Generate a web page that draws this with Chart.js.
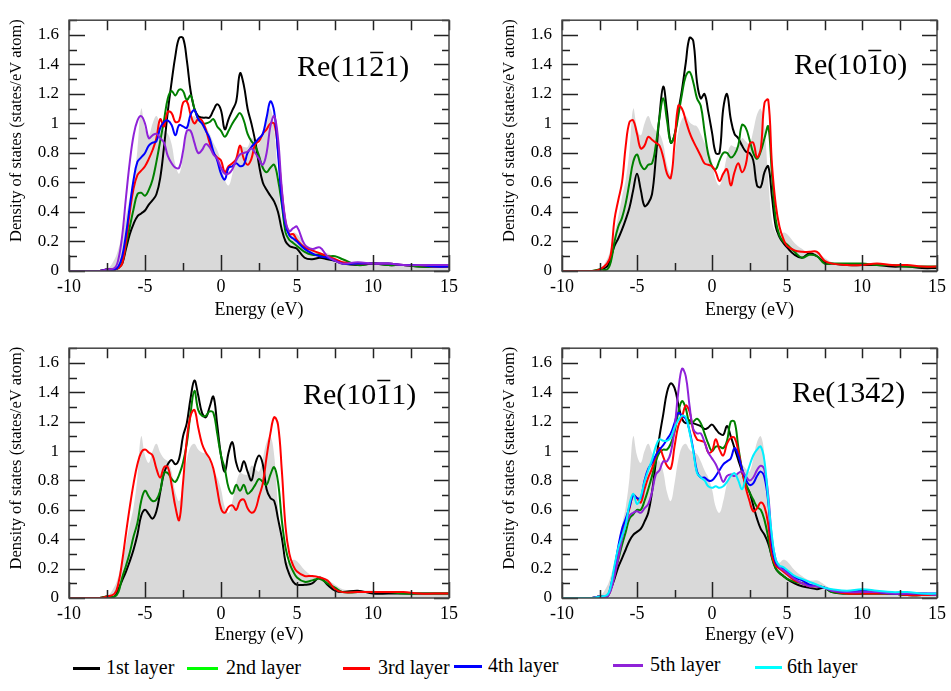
<!DOCTYPE html>
<html>
<head>
<meta charset="utf-8">
<script src="https://cdn.jsdelivr.net/npm/chart.js@4.4.1/dist/chart.umd.min.js"></script>
<style>
  body { margin: 0; background: #fff; width: 951px; height: 691px; position: relative; overflow: hidden; }
  canvas { position: absolute; }
  .leg { position: absolute; font-family: "Liberation Serif", serif; font-size: 20px; color: #000; white-space: nowrap; }
  .legline { position: absolute; height: 3px; }
</style>
</head>
<body>
<canvas id="c1121" width="470" height="321" style="left:0px;top:0px"></canvas>
<canvas id="c1010" width="458" height="321" style="left:493px;top:0px"></canvas>
<canvas id="c1011" width="470" height="318" style="left:0px;top:328px"></canvas>
<canvas id="c1342" width="458" height="318" style="left:493px;top:328px"></canvas>
<div id="legend"></div>
<script>
// energy grid (eV), shared by every curve
var energy = [-10, -8, -7.5,
  -7, -6.75, -6.5, -6.25, -6, -5.75, -5.5, -5.25,
  -5, -4.75, -4.5, -4.25, -4, -3.75, -3.5, -3.25,
  -3, -2.75, -2.5, -2.25, -2, -1.75, -1.5, -1.25,
  -1, -0.75, -0.5, -0.25, 0, 0.25, 0.5, 0.75,
  1, 1.25, 1.5, 1.75, 2, 2.25, 2.5, 2.75,
  3, 3.25, 3.5, 3.75, 4, 4.25, 4.5, 4.75,
  5, 5.5, 6, 6.5, 7, 7.5, 8,
  9, 10, 11, 12, 13, 14, 15];

// bulk DOS (grey area)
var bulk = [0, 0, 0.01,
  0.08, 0.15, 0.25, 0.37, 0.5, 0.62, 0.82, 1.1,
  0.97, 0.92, 1.0, 1.05, 0.99, 0.95, 0.93, 0.86,
  0.72, 0.66, 0.78, 0.94, 1.03, 1.05, 1.01, 0.99,
  0.98, 0.93, 0.87, 0.82, 0.74, 0.62, 0.58, 0.66,
  0.78, 0.85, 0.84, 0.84, 0.9, 0.88, 0.86, 0.95,
  1.06, 1.1, 0.97, 0.62, 0.34, 0.26, 0.24, 0.26,
  0.25, 0.19, 0.15, 0.12, 0.12, 0.09, 0.06,
  0.05, 0.05, 0.04, 0.04, 0.03, 0.03, 0.03];

// Re(11-21)
var a1121_1 = [0, 0, 0.01,
  0.01, 0.02, 0.05, 0.15, 0.25, 0.32, 0.37, 0.39,
  0.41, 0.45, 0.48, 0.52, 0.63, 0.84, 1.08, 1.28,
  1.46, 1.58, 1.58, 1.43, 1.22, 1.1, 1.05, 1.04,
  1.04, 1.04, 1.09, 1.13, 1.09, 0.96, 1.03, 1.09,
  1.15, 1.34, 1.26, 1.1, 1.0, 0.88, 0.72, 0.6,
  0.55, 0.51, 0.47, 0.4, 0.28, 0.2, 0.17, 0.16,
  0.15, 0.09, 0.08, 0.09, 0.08, 0.07, 0.05,
  0.04, 0.05, 0.04, 0.04, 0.03, 0.03, 0.03];
var a1121_2 = [0, 0, 0.01,
  0.01, 0.02, 0.06, 0.18, 0.3, 0.42, 0.52, 0.53,
  0.51, 0.55, 0.62, 0.74, 0.88, 1.02, 1.17, 1.22,
  1.19, 1.23, 1.22, 1.16, 1.19, 1.1, 1.03, 1.0,
  1.0, 1.01, 1.03, 0.98, 0.95, 0.91, 0.95, 1.0,
  1.04, 1.07, 1.02, 0.93, 0.88, 0.85, 0.78, 0.7,
  0.67, 0.7, 0.72, 0.62, 0.45, 0.26, 0.21, 0.19,
  0.17, 0.13, 0.11, 0.11, 0.1, 0.1, 0.08,
  0.04, 0.05, 0.04, 0.04, 0.03, 0.03, 0.03];
var a1121_3 = [0, 0, 0.01,
  0.01, 0.02, 0.05, 0.2, 0.4, 0.56, 0.65, 0.68,
  0.71, 0.76, 0.82, 0.9, 1.03, 0.98, 1.08, 1.07,
  1.01, 1.02, 1.14, 1.15, 1.06, 1.0, 1.03, 1.02,
  0.96, 0.87, 0.8, 0.77, 0.75, 0.67, 0.71, 0.73,
  0.76, 0.85, 0.76, 0.72, 0.76, 0.86, 0.88, 0.93,
  0.96, 1.0, 1.0, 0.82, 0.54, 0.33, 0.25, 0.25,
  0.21, 0.16, 0.14, 0.12, 0.1, 0.08, 0.06,
  0.05, 0.05, 0.05, 0.04, 0.04, 0.03, 0.03];
var a1121_4 = [0, 0, 0.01,
  0.01, 0.03, 0.1, 0.25, 0.44, 0.62, 0.74, 0.77,
  0.8, 0.85, 0.87, 0.88, 0.97, 1.01, 1.02, 0.99,
  0.92, 0.99, 0.98, 0.97, 1.06, 1.09, 1.03, 1.0,
  0.95, 0.9, 0.81, 0.75, 0.66, 0.62, 0.7, 0.71,
  0.73, 0.71, 0.72, 0.8, 0.84, 0.87, 0.9, 0.93,
  1.04, 1.15, 1.08, 0.8, 0.48, 0.31, 0.24, 0.22,
  0.2, 0.15, 0.12, 0.1, 0.09, 0.07, 0.05,
  0.05, 0.05, 0.05, 0.04, 0.04, 0.03, 0.03];
var a1121_5 = [0, 0, 0.01,
  0.02, 0.08, 0.24, 0.5, 0.74, 0.92, 1.02, 1.05,
  1.0, 0.9, 0.92, 0.93, 0.9, 0.87, 0.78, 0.73,
  0.7, 0.7, 0.81, 0.95, 0.95, 0.87, 0.8, 0.82,
  0.86, 0.84, 0.79, 0.76, 0.7, 0.66, 0.66, 0.69,
  0.75, 0.79, 0.8, 0.81, 0.83, 0.8, 0.76, 0.72,
  0.8, 0.98, 1.05, 0.9, 0.56, 0.34, 0.27, 0.29,
  0.3, 0.18, 0.15, 0.16, 0.1, 0.07, 0.05,
  0.06, 0.05, 0.05, 0.04, 0.04, 0.04, 0.04];

// Re(10-10)
var a1010_1 = [0, 0, 0.01,
  0.03, 0.09, 0.17, 0.22, 0.28, 0.35, 0.43, 0.55,
  0.66, 0.55, 0.44, 0.46, 0.52, 0.76, 1.05, 1.25,
  1.08, 0.87, 0.92, 1.08, 1.23, 1.41, 1.58, 1.56,
  1.28, 1.17, 1.2, 1.08, 0.94, 0.8, 0.8, 1.1,
  1.2, 1.03, 0.93, 0.9, 0.85, 0.81, 0.8, 0.75,
  0.58, 0.57, 0.67, 0.71, 0.5, 0.3, 0.23, 0.19,
  0.16, 0.11, 0.09, 0.12, 0.1, 0.06, 0.05,
  0.04, 0.04, 0.04, 0.03, 0.03, 0.02, 0.02];
var a1010_2 = [0, 0, 0.01,
  0.01, 0.06, 0.2, 0.3, 0.36, 0.46, 0.6, 0.74,
  0.79, 0.72, 0.69, 0.72, 0.73, 0.85, 1.04, 1.17,
  1.02, 0.87, 0.92, 1.05, 1.2, 1.32, 1.35, 1.28,
  1.17, 1.12, 0.95, 0.79, 0.71, 0.69, 0.75, 0.8,
  0.8, 0.77, 0.79, 0.85, 0.99, 0.97, 0.89, 0.8,
  0.76, 0.81, 0.9, 0.98, 0.65, 0.35, 0.24, 0.2,
  0.18, 0.13, 0.09, 0.11, 0.1, 0.05, 0.05,
  0.05, 0.05, 0.04, 0.04, 0.03, 0.03, 0.03];
var a1010_3 = [0, 0, 0.01,
  0.05, 0.11, 0.35, 0.48, 0.6, 0.85, 1.01, 1.02,
  0.93, 0.83, 0.85, 0.91, 0.89, 0.87, 0.85, 0.77,
  0.66, 0.63, 0.86, 1.12, 1.1, 1.02, 0.94, 0.88,
  0.83, 0.78, 0.73, 0.72, 0.71, 0.67, 0.61, 0.66,
  0.69, 0.58, 0.67, 0.73, 0.67, 0.72, 0.86, 0.87,
  0.77, 0.83, 1.14, 1.16, 0.72, 0.45, 0.3, 0.22,
  0.17, 0.14, 0.13, 0.13, 0.13, 0.07, 0.05,
  0.04, 0.04, 0.05, 0.04, 0.04, 0.03, 0.03];

// Re(10-11)
var a1011_1 = [0, 0, 0.01,
  0.01, 0.06, 0.12, 0.18, 0.25, 0.33, 0.43, 0.56,
  0.6, 0.57, 0.54, 0.59, 0.72, 0.85, 0.91, 0.94,
  0.91, 0.95, 1.1, 1.19, 1.36, 1.48, 1.38, 1.26,
  1.23, 1.3, 1.37, 1.18, 0.97, 0.86, 0.99, 1.06,
  0.92, 0.86, 0.93, 0.86, 0.8, 0.91, 0.97, 0.91,
  0.74, 0.68, 0.66, 0.54, 0.41, 0.24, 0.16, 0.11,
  0.09, 0.09, 0.1, 0.14, 0.09, 0.05, 0.04,
  0.05, 0.03, 0.03, 0.03, 0.03, 0.03, 0.03];
var a1011_2 = [0, 0, 0.01,
  0.01, 0.04, 0.14, 0.22, 0.31, 0.42, 0.51, 0.66,
  0.73, 0.69, 0.66, 0.67, 0.73, 0.85, 0.85, 0.81,
  0.79, 0.84, 0.92, 1.05, 1.26, 1.41, 1.28, 1.24,
  1.24, 1.27, 1.26, 1.12, 0.97, 0.88, 0.75, 0.71,
  0.77, 0.73, 0.77, 0.71, 0.73, 0.77, 0.81, 0.79,
  0.77, 0.84, 0.89, 0.79, 0.53, 0.34, 0.24, 0.18,
  0.14, 0.11, 0.12, 0.13, 0.1, 0.07, 0.04,
  0.04, 0.04, 0.04, 0.03, 0.03, 0.03, 0.03];
var a1011_3 = [0, 0, 0.01,
  0.03, 0.1, 0.25, 0.44, 0.62, 0.78, 0.91, 0.99,
  1.01, 0.99, 0.97, 0.88, 0.82, 0.89, 0.89, 0.77,
  0.62, 0.53, 0.78, 1.08, 1.24, 1.28, 1.16, 1.05,
  0.99, 0.95, 0.88, 0.74, 0.61, 0.58, 0.62, 0.63,
  0.6, 0.66, 0.67, 0.61, 0.58, 0.6, 0.69, 0.78,
  0.96, 1.12, 1.23, 1.18, 0.87, 0.48, 0.3, 0.22,
  0.18, 0.15, 0.15, 0.14, 0.12, 0.06, 0.04,
  0.04, 0.04, 0.04, 0.04, 0.03, 0.03, 0.03];

// Re(13-42)
var a1342_1 = [0, 0, 0.01,
  0.01, 0.06, 0.13, 0.21, 0.27, 0.33, 0.39, 0.43,
  0.45, 0.47, 0.52, 0.58, 0.72, 0.92, 1.1, 1.25,
  1.4, 1.46, 1.43, 1.32, 1.22, 1.19, 1.21, 1.19,
  1.18, 1.17, 1.15, 1.16, 1.18, 1.15, 1.12, 1.11,
  1.17, 1.1, 1.02, 0.94, 0.86, 0.77, 0.72, 0.63,
  0.54, 0.47, 0.43, 0.37, 0.28, 0.2, 0.17, 0.15,
  0.13, 0.1, 0.08, 0.07, 0.06, 0.07, 0.04,
  0.03, 0.03, 0.03, 0.03, 0.02, 0.02, 0.02];
var a1342_2 = [0, 0, 0.01,
  0.01, 0.06, 0.16, 0.26, 0.36, 0.45, 0.54, 0.57,
  0.6, 0.6, 0.66, 0.74, 0.83, 0.93, 0.99, 1.01,
  1.01, 1.05, 1.13, 1.26, 1.34, 1.29, 1.19, 1.2,
  1.22, 1.19, 1.12, 1.05, 1.0, 1.03, 1.03, 1.02,
  1.07, 1.2, 1.2, 1.03, 0.88, 0.78, 0.72, 0.67,
  0.62, 0.6, 0.53, 0.41, 0.27, 0.2, 0.17, 0.15,
  0.13, 0.11, 0.1, 0.08, 0.08, 0.07, 0.04,
  0.03, 0.03, 0.03, 0.03, 0.02, 0.02, 0.02];
var a1342_3 = [0, 0, 0.01,
  0.01, 0.06, 0.16, 0.3, 0.42, 0.52, 0.61, 0.7,
  0.68, 0.65, 0.74, 0.82, 0.88, 0.96, 1.02, 0.96,
  0.9, 0.88, 1.03, 1.17, 1.23, 1.31, 1.27, 1.14,
  1.08, 1.07, 1.06, 0.99, 1.0, 1.08, 1.01, 0.97,
  1.05, 1.09, 1.09, 1.0, 0.87, 0.75, 0.66, 0.59,
  0.61, 0.65, 0.62, 0.5, 0.29, 0.22, 0.2, 0.18,
  0.16, 0.12, 0.1, 0.08, 0.08, 0.07, 0.05,
  0.03, 0.03, 0.03, 0.03, 0.02, 0.02, 0.02];
var a1342_4 = [0, 0, 0.01,
  0.01, 0.08, 0.2, 0.35, 0.47, 0.54, 0.62, 0.7,
  0.68, 0.68, 0.8, 0.88, 0.92, 0.97, 1.01, 1.04,
  1.08, 1.12, 1.19, 1.26, 1.24, 1.22, 1.14, 1.01,
  0.86, 0.82, 0.82, 0.8, 0.8, 0.83, 0.87, 0.91,
  0.93, 0.95, 1.02, 0.97, 0.88, 0.81, 0.77, 0.78,
  0.83, 0.86, 0.82, 0.65, 0.36, 0.24, 0.21, 0.2,
  0.18, 0.14, 0.12, 0.09, 0.08, 0.07, 0.05,
  0.04, 0.05, 0.04, 0.03, 0.03, 0.03, 0.03];
var a1342_5 = [0, 0, 0.01,
  0.01, 0.05, 0.15, 0.27, 0.4, 0.5, 0.56, 0.58,
  0.59, 0.58, 0.61, 0.64, 0.72, 0.84, 0.87, 0.93,
  0.93, 0.99, 1.15, 1.4, 1.56, 1.51, 1.31, 1.15,
  1.12, 1.12, 1.06, 0.99, 0.95, 0.91, 0.85, 0.79,
  0.83, 0.84, 0.83, 0.85, 0.86, 0.83, 0.8, 0.82,
  0.87, 0.9, 0.87, 0.7, 0.4, 0.26, 0.21, 0.19,
  0.17, 0.13, 0.1, 0.08, 0.08, 0.07, 0.05,
  0.04, 0.04, 0.04, 0.03, 0.03, 0.03, 0.02];
var a1342_6 = [0, 0, 0.01,
  0.02, 0.08, 0.22, 0.34, 0.42, 0.5, 0.64, 0.71,
  0.64, 0.69, 0.79, 0.87, 0.94, 1.03, 1.08, 1.07,
  1.07, 1.09, 1.16, 1.21, 1.24, 1.23, 1.13, 1.0,
  0.85, 0.82, 0.8, 0.76, 0.75, 0.76, 0.75, 0.76,
  0.79, 0.83, 0.85, 0.8, 0.74, 0.82, 0.9, 0.97,
  1.01, 1.03, 0.93, 0.67, 0.42, 0.26, 0.22, 0.21,
  0.19, 0.15, 0.13, 0.11, 0.09, 0.07, 0.06,
  0.05, 0.06, 0.05, 0.04, 0.04, 0.03, 0.03];

var layerNames = ['1st layer', '2nd layer', '3rd layer', '4th layer', '5th layer', '6th layer'];
var layerColors = ['#000000', '#008000', '#ff0000', '#0000ff', '#8f22d8', '#00f0ff'];
var legendColors = ['#000000', '#00ff00', '#ff0000', '#0000ff', '#8f22d8', '#00ffff'];
var yTicks = [0, 0.2, 0.4, 0.6, 0.8, 1, 1.2, 1.4, 1.6];

var serif = '"Liberation Serif", "Times New Roman", serif';

function pts(arr) {
	return energy.map(function (e, i) { return {x: e, y: arr[i]}; });
}

// frame with inward ticks on all sides, y title, panel label with overbar
var framePlugin = {
	id: 'frame',
	afterDatasetsDraw: function (chart, args, opts) {
		var ctx = chart.ctx, a = chart.chartArea, x = chart.scales.x, y = chart.scales.y;
		ctx.save();
		ctx.strokeStyle = '#222';
		ctx.lineWidth = 1.5;
		ctx.beginPath();
		for (var e = -10; e <= 15; e += 2.5) {
			var px = Math.round(x.getPixelForValue(e)) + 0.5;
			var major = (e % 5 === 0);
			ctx.moveTo(px, a.bottom); ctx.lineTo(px, a.bottom - (major ? 16 : 8));
			ctx.moveTo(px, a.top); ctx.lineTo(px, a.top + 10);
		}
		for (var k = 0; k <= 17; k++) {
			var py = Math.round(y.getPixelForValue(k / 10)) + 0.5;
			var maj = (k % 2 === 0);
			ctx.moveTo(a.left, py); ctx.lineTo(a.left + (maj ? 16 : 8), py);
			ctx.moveTo(a.right, py); ctx.lineTo(a.right - (maj ? 15 : 7), py);
		}
		ctx.stroke();
		ctx.strokeStyle = '#444';
		ctx.strokeRect(a.left, a.top, a.right - a.left, a.bottom - a.top);

		// y axis title
		ctx.fillStyle = '#000';
		ctx.save();
		ctx.translate(a.left - 52, (a.top + a.bottom) / 2 - 15);
		ctx.rotate(-Math.PI / 2);
		ctx.font = '16.5px ' + serif;
		ctx.textAlign = 'center';
		ctx.textBaseline = 'middle';
		ctx.fillText('Density of states (states/eV atom)', 0, 0);
		ctx.restore();

		// label
		ctx.font = '30px ' + serif;
		ctx.textBaseline = 'alphabetic';
		ctx.textAlign = 'left';
		var w1 = ctx.measureText(opts.pre).width;
		var w2 = ctx.measureText(opts.bar).width;
		ctx.fillText(opts.pre, opts.x, opts.y);
		ctx.fillText(opts.bar, opts.x + w1, opts.y);
		ctx.fillText(opts.post, opts.x + w1 + w2, opts.y);
		ctx.strokeStyle = '#000';
		ctx.lineWidth = 1.5;
		ctx.beginPath();
		ctx.moveTo(opts.x + w1 + 1, opts.y - 23.5);
		ctx.lineTo(opts.x + w1 + w2 - 1, opts.y - 23.5);
		ctx.stroke();
		ctx.restore();
	}
};

function drawPanel(id, series, label, xHeight, padRight) {
	var datasets = [];
	for (var i = 0; i < series.length; i++) {
		datasets.push({
			label: layerNames[i],
			data: pts(series[i]),
			borderColor: layerColors[i],
			borderWidth: 2,
			pointRadius: 0,
			fill: false,
			tension: 0.4,
			order: series.length - i
		});
	}
	datasets.push({
		label: 'bulk',
		data: pts(bulk),
		borderWidth: 0,
		borderColor: 'rgba(0,0,0,0)',
		backgroundColor: '#d9d9d9',
		pointRadius: 0,
		fill: 'origin',
		tension: 0.4,
		order: 20
	});

	var ctx = document.getElementById(id);
	return new Chart(ctx, {
		type: 'line',
		data: {datasets: datasets},
		plugins: [framePlugin],
		options: {
			responsive: false,
			animation: false,
			layout: {padding: {top: 5, right: padRight, left: 0, bottom: 0}},
			plugins: {
				legend: {display: false},
				tooltip: {enabled: false},
				frame: label
			},
			scales: {
				x: {
					type: 'linear',
					min: -10,
					max: 15,
					grid: {display: false, drawTicks: false},
					border: {display: false},
					ticks: {stepSize: 5, padding: 5, color: '#000', maxRotation: 0, autoSkip: false,
						font: {family: serif, size: 18}},
					title: {display: true, text: 'Energy (eV)', color: '#000', padding: 0,
						font: {family: serif, size: 18}},
					afterFit: function (s) { s.height = xHeight; }
				},
				y: {
					min: 0,
					max: 1.7,
					grid: {display: false, drawTicks: false},
					border: {display: false},
					ticks: {padding: 10, color: '#000', font: {family: serif, size: 17},
						callback: function (v) { return String(Math.round(v * 10) / 10); }},
					afterBuildTicks: function (s) {
						s.ticks = yTicks.map(function (v) { return {value: v}; });
					},
					afterFit: function (s) { s.width = 69; }
				}
			}
		}
	});
}

drawPanel('c1121', [a1121_1, a1121_2, a1121_3, a1121_4, a1121_5],
	{pre: 'Re(11', bar: '2', post: '1)', x: 297, y: 76}, 50, 21);
drawPanel('c1010', [a1010_1, a1010_2, a1010_3],
	{pre: 'Re(10', bar: '1', post: '0)', x: 301, y: 74}, 50, 11);
drawPanel('c1011', [a1011_1, a1011_2, a1011_3],
	{pre: 'Re(10', bar: '1', post: '1)', x: 303, y: 76}, 48, 21);
drawPanel('c1342', [a1342_1, a1342_2, a1342_3, a1342_4, a1342_5, a1342_6],
	{pre: 'Re(13', bar: '4', post: '2)', x: 299, y: 74}, 48, 11);

// legend under the panels
var legendPos = [[73, 100, 106, 668], [187, 218, 226, 668], [343, 370, 378, 668],
	[454, 482, 488, 666], [613, 643, 650, 665], [755, 782, 787, 667]];
var leg = document.getElementById('legend');
for (var n = 0; n < layerNames.length; n++) {
	var p = legendPos[n];
	var ln = document.createElement('div');
	ln.className = 'legline';
	ln.style.left = p[0] + 'px';
	ln.style.width = (p[1] - p[0]) + 'px';
	ln.style.top = (p[3] - 1) + 'px';
	ln.style.background = legendColors[n];
	leg.appendChild(ln);
	var tx = document.createElement('div');
	tx.className = 'leg';
	tx.textContent = layerNames[n];
	tx.style.left = p[2] + 'px';
	tx.style.top = (p[3] - 12) + 'px';
	leg.appendChild(tx);
}
</script>
</body>
</html>
